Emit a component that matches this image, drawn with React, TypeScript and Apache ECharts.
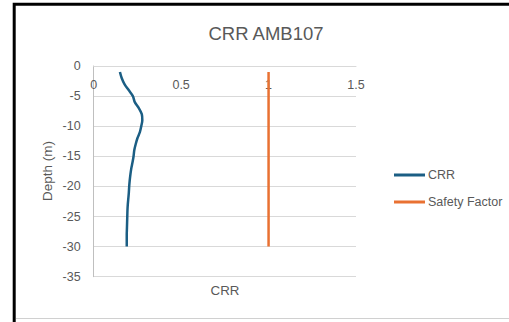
import React, { useEffect, useRef } from "react";
import * as echarts from "echarts";

const depths = [-1, -2, -3, -4, -5, -6, -7, -8, -9, -10, -11, -12, -13, -14, -15, -16, -17, -18, -19, -20, -21, -22, -23, -24, -25, -26, -27, -28, -29, -30];
const crrValues = [0.150, 0.160, 0.176, 0.200, 0.224, 0.235, 0.258, 0.275, 0.278, 0.272, 0.264, 0.250, 0.240, 0.232, 0.228, 0.222, 0.215, 0.210, 0.206, 0.203, 0.201, 0.198, 0.195, 0.193, 0.192, 0.191, 0.190, 0.189, 0.189, 0.189];
const safetyDepths = [-1, -30];
const safetyValues = [1, 1];
const xTicks = { min: 0, max: 1.5, interval: 0.5 };
const yTicks = { min: -35, max: 0, interval: 5 };

const FONT = "'Liberation Sans', Arial, sans-serif";
const TXT = "#595959";

export default function App() {
  const ref = useRef<HTMLDivElement>(null);
  useEffect(() => {
    if (!ref.current) return;
    const chart = echarts.init(ref.current, undefined, { renderer: "svg" });
    chart.setOption({
      animation: false,
      backgroundColor: "#ffffff",
      textStyle: { fontFamily: FONT },
      grid: { left: 93.7, top: 66, right: 153, bottom: 45.3, containLabel: false },
      xAxis: {
        type: "value",
        min: xTicks.min,
        max: xTicks.max,
        interval: xTicks.interval,
        position: "top",
        axisLine: { show: true, onZero: false, lineStyle: { color: "#d9d9d9", width: 1 } },
        axisTick: { show: false },
        splitLine: { show: false },
        axisLabel: { inside: true, margin: 12, color: TXT, fontSize: 12.5, fontFamily: FONT },
      },
      yAxis: {
        type: "value",
        min: yTicks.min,
        max: yTicks.max,
        interval: yTicks.interval,
        axisLine: { show: true, onZero: false, lineStyle: { color: "#bfbfbf", width: 1 } },
        axisTick: { show: false },
        splitLine: { show: true, lineStyle: { color: "#d9d9d9", width: 1 } },
        axisLabel: { margin: 13, color: TXT, fontSize: 12.5, fontFamily: FONT },
      },
      legend: {
        orient: "vertical",
        left: 389,
        top: 163,
        icon: "rect",
        itemWidth: 31,
        itemHeight: 3,
        itemGap: 13,
        textStyle: { color: TXT, fontSize: 12.5, fontFamily: FONT, lineHeight: 14, padding: [0, 0, 0, -2] },
        data: ["CRR", "Safety Factor"],
      },
      series: [
        {
          name: "CRR",
          type: "line",
          data: depths.map((d, i) => [crrValues[i], d]),
          showSymbol: false,
          smooth: 0.3,
          lineStyle: { color: "#1b5e84", width: 2.5 },
          itemStyle: { color: "#1b5e84" },
        },
        {
          name: "Safety Factor",
          type: "line",
          data: safetyDepths.map((d, i) => [safetyValues[i], d]),
          showSymbol: false,
          lineStyle: { color: "#e97132", width: 2.5 },
          itemStyle: { color: "#e97132" },
        },
      ],
      graphic: [
        {
          type: "rect",
          shape: { x: 14.2, y: 4.2, width: 520, height: 340 },
          style: { fill: "none", stroke: "#000000", lineWidth: 3 },
          silent: true,
        },
        {
          type: "line",
          shape: { x1: 16, y1: 318.5, x2: 509, y2: 318.5 },
          style: { stroke: "#d0d0d0", lineWidth: 1 },
          silent: true,
        },
        {
          type: "text",
          x: 266,
          y: 33,
          style: { text: "CRR AMB107", fill: TXT, font: `18.5px ${FONT}`, textAlign: "center", textVerticalAlign: "middle" },
        },
        {
          type: "text",
          x: 225,
          y: 290,
          style: { text: "CRR", fill: TXT, font: `13.3px ${FONT}`, textAlign: "center", textVerticalAlign: "middle" },
        },
        {
          type: "text",
          x: 47,
          y: 171,
          rotation: Math.PI / 2,
          style: { text: "Depth (m)", fill: TXT, font: `13.5px ${FONT}`, textAlign: "center", textVerticalAlign: "middle" },
        },
      ],
    });
    return () => chart.dispose();
  }, []);
  return <div ref={ref} style={{ position: "fixed", left: 0, top: 0, width: 509, height: 322 }} />;
}
